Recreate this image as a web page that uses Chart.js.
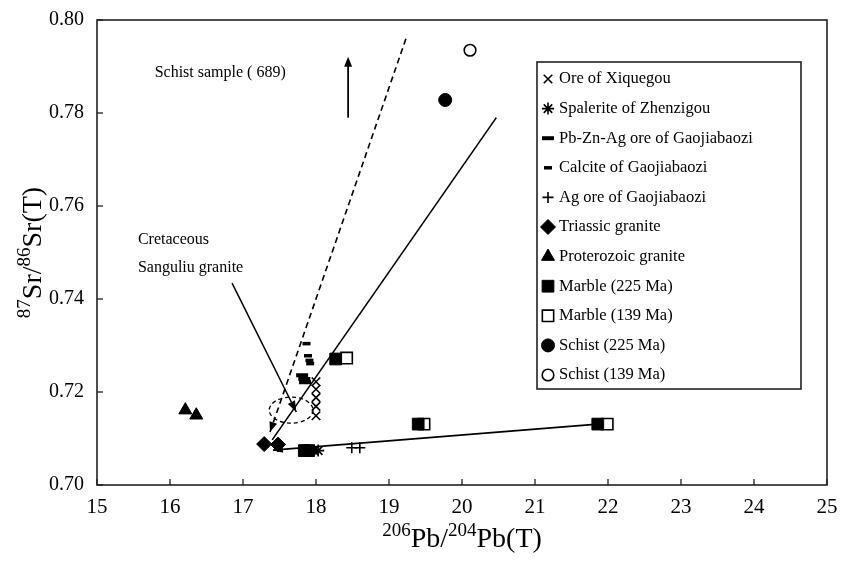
<!DOCTYPE html>
<html><head><meta charset="utf-8">
<script src="https://cdn.jsdelivr.net/npm/chart.js@4/dist/chart.umd.min.js"></script>
<style>html,body{margin:0;padding:0;background:#fff}#wrap{width:841px;height:564px;position:relative}</style>
</head><body><div id="wrap"><canvas id="c" width="841" height="564"></canvas></div>
<script>
// ---- tick labels ----
const xTickValues = [15,16,17,18,19,20,21,22,23,24,25];
const yTickValues = [0.70,0.72,0.74,0.76,0.78,0.80];

// ---- series (x = 206Pb/204Pb(T), y = 87Sr/86Sr(T)) ----
const xiquegouX = [18.0,18.0,18.0,18.0,18.0];
const xiquegouY = [0.7222,0.7206,0.7188,0.7169,0.7149];
const zhenzigouX = [17.97,18.03];
const zhenzigouY = [0.7074,0.7074];
const pbznagX = [17.81,17.84,17.85];
const pbznagY = [0.7236,0.7228,0.7221];
const calciteX = [17.87,17.89,17.91,17.92];
const calciteY = [0.7304,0.7278,0.7268,0.7261];
const agOreX = [18.49,18.6];
const agOreY = [0.7080,0.7080];
const triassicX = [17.29,17.48];
const triassicY = [0.7088,0.7087];
const proterozoicX = [16.21,16.36];
const proterozoicY = [0.7161,0.7150];
const marble225X = [17.84,17.9,18.27,19.40,21.86];
const marble225Y = [0.7074,0.7074,0.7271,0.7131,0.7131];
const marble139X = [18.42,19.48,21.99];
const marble139Y = [0.7273,0.7131,0.7131];
const schist225X = [19.77];
const schist225Y = [0.7828];
const schist139X = [20.11];
const schist139Y = [0.7935];

// ---- reference lines ----
const solidLineX = [17.40,20.47];
const solidLineY = [0.7097,0.7790];
const dashedLineX = [17.37,19.25];
const dashedLineY = [0.7114,0.7968];
const bottomLineX = [17.41,21.86];
const bottomLineY = [0.7075,0.7131];
const cretaceousArrowX = [16.85,17.73];
const cretaceousArrowY = [0.7434,0.7157];
const schistArrowX = [18.44,18.44];
const schistArrowY = [0.7790,0.7921];
const ellipseCenter = [17.66,0.7161];
const ellipseRadii = [0.30,0.0028];

const zip = (xs, ys) => xs.map((x, i) => ({x, y: ys[i]}));
const SERIF = "'Liberation Serif', 'DejaVu Serif', serif";
const BLACK = '#000';

function series(label, xs, ys, style, radius, bw, fill) {
  return {label, data: zip(xs, ys), pointStyle: style, pointRadius: radius, pointHoverRadius: radius,
    pointBorderWidth: bw, borderColor: BLACK, backgroundColor: fill, pointBackgroundColor: fill,
    pointBorderColor: BLACK, showLine: false, order: 1};
}
function refLine(xs, ys, dash) {
  return {label: '', noLegend: true, data: zip(xs, ys), showLine: true, pointRadius: 0, borderColor: BLACK,
    borderWidth: 1.6, borderDash: dash || [], fill: false, order: 2};
}

const datasets = [
  series('Ore of Xiquegou', xiquegouX, xiquegouY, 'crossRot', 6, 1.6, BLACK),
  series('Spalerite of Zhenzigou', zhenzigouX, zhenzigouY, 'star', 6, 1.6, BLACK),
  series('Pb-Zn-Ag ore of Gaojiabaozi', pbznagX, pbznagY, 'line', 6, 4, BLACK),
  series('Calcite of Gaojiabaozi', calciteX, calciteY, 'line', 4, 3.5, BLACK),
  series('Ag ore of Gaojiabaozi', agOreX, agOreY, 'cross', 5.5, 1.6, BLACK),
  series('Triassic granite', triassicX, triassicY, 'rectRot', 7.5, 1, BLACK),
  series('Proterozoic granite', proterozoicX, proterozoicY, 'triangle', 7.5, 1, BLACK),
  series('Marble (225 Ma)', marble225X, marble225Y, 'rect', 8.3, 1, BLACK),
  series('Marble (139 Ma)', marble139X, marble139Y, 'rect', 8, 1.6, '#fff'),
  series('Schist (225 Ma)', schist225X, schist225Y, 'circle', 6.5, 1, BLACK),
  series('Schist (139 Ma)', schist139X, schist139Y, 'circle', 5.8, 1.6, '#fff'),
  refLine(solidLineX, solidLineY),
  refLine(dashedLineX, dashedLineY, [6, 4]),
  refLine(bottomLineX, bottomLineY)
];

function arrowHead(ctx, x1, y1, x2, y2, len, half) {
  const a = Math.atan2(y2 - y1, x2 - x1);
  ctx.beginPath();
  ctx.moveTo(x2, y2);
  ctx.lineTo(x2 - len * Math.cos(a) + half * Math.sin(a), y2 - len * Math.sin(a) - half * Math.cos(a));
  ctx.lineTo(x2 - len * Math.cos(a) - half * Math.sin(a), y2 - len * Math.sin(a) + half * Math.cos(a));
  ctx.closePath();
  ctx.fill();
}

function drawMarker(ctx, ds, x, y) {
  const opts = {pointStyle: ds.pointStyle, radius: ds.pointRadius, borderWidth: ds.pointBorderWidth, rotation: 0};
  ctx.save();
  ctx.fillStyle = ds.pointBackgroundColor;
  ctx.strokeStyle = BLACK;
  ctx.lineWidth = ds.pointBorderWidth;
  Chart.helpers.drawPoint(ctx, opts, x, y);
  ctx.restore();
}

const decorPlugin = {
  id: 'decor',
  afterDatasetsDraw(chart) {
    const ctx = chart.ctx, xs = chart.scales.x, ys = chart.scales.y, ca = chart.chartArea;
    const px = v => xs.getPixelForValue(v), py = v => ys.getPixelForValue(v);
    ctx.save();
    ctx.fillStyle = BLACK; ctx.strokeStyle = BLACK;
    // frame
    ctx.lineWidth = 1.6; ctx.strokeStyle = '#222';
    ctx.strokeRect(ca.left, ca.top, ca.right - ca.left, ca.bottom - ca.top);
    // inward ticks
    ctx.lineWidth = 1.3;
    xTickValues.forEach(v => { const x = px(v); ctx.beginPath(); ctx.moveTo(x, ca.bottom); ctx.lineTo(x, ca.bottom - 6); ctx.stroke(); });
    yTickValues.forEach(v => { const y = py(v); ctx.beginPath(); ctx.moveTo(ca.left, y); ctx.lineTo(ca.left + 6, y); ctx.stroke(); });
    ctx.strokeStyle = BLACK;
    // arrowheads on reference lines
    arrowHead(ctx, px(dashedLineX[1]), py(dashedLineY[1]), px(dashedLineX[0]), py(dashedLineY[0]), 10, 4);
    arrowHead(ctx, px(bottomLineX[1]), py(bottomLineY[1]), px(bottomLineX[0]), py(bottomLineY[0]), 10, 3.5);
    // Cretaceous arrow
    ctx.lineWidth = 1.5;
    const c0x = px(cretaceousArrowX[0]), c0y = py(cretaceousArrowY[0]), c1x = px(cretaceousArrowX[1]), c1y = py(cretaceousArrowY[1]);
    ctx.beginPath(); ctx.moveTo(c0x, c0y); ctx.lineTo(c1x, c1y); ctx.stroke();
    arrowHead(ctx, c0x, c0y, c1x, c1y, 11, 4);
    // Schist arrow
    const s0x = px(schistArrowX[0]), s0y = py(schistArrowY[0]), s1x = px(schistArrowX[1]), s1y = py(schistArrowY[1]);
    ctx.lineWidth = 1.8;
    ctx.beginPath(); ctx.moveTo(s0x, s0y); ctx.lineTo(s1x, s1y + 6); ctx.stroke();
    arrowHead(ctx, s0x, s0y, s1x, s1y, 10, 4);
    // dashed ellipse
    ctx.lineWidth = 1.3; ctx.setLineDash([4, 3]);
    ctx.beginPath();
    ctx.ellipse(px(ellipseCenter[0]), py(ellipseCenter[1]),
      Math.abs(px(ellipseCenter[0] + ellipseRadii[0]) - px(ellipseCenter[0])),
      Math.abs(py(ellipseCenter[1] + ellipseRadii[1]) - py(ellipseCenter[1])), 0, 0, Math.PI * 2);
    ctx.stroke(); ctx.setLineDash([]);
    // annotations text
    ctx.font = '16px ' + SERIF; ctx.textBaseline = 'middle'; ctx.textAlign = 'left';
    ctx.fillText('Schist sample ( 689)', px(15.79), py(0.7886));
    ctx.fillText('Cretaceous', px(15.56), py(0.7527));
    ctx.fillText('Sanguliu granite', px(15.56), py(0.7467));

    // legend box
    const lx0 = 537, ly0 = 62, lx1 = 801, ly1 = 389;
    ctx.fillStyle = '#fff'; ctx.fillRect(lx0, ly0, lx1 - lx0, ly1 - ly0);
    ctx.lineWidth = 1.6; ctx.strokeStyle = '#222'; ctx.strokeRect(lx0, ly0, lx1 - lx0, ly1 - ly0);
    ctx.fillStyle = BLACK;
    const items = chart.data.datasets.filter(d => !d.noLegend);
    ctx.font = '16.5px ' + SERIF; ctx.textBaseline = 'middle';
    items.forEach((d, i) => {
      const y = 79 + i * 29.6;
      drawMarker(ctx, d, 548, y);
      ctx.fillStyle = BLACK;
      ctx.fillText(d.label, 559, y);
    });

    // axis titles with superscripts
    const big = '28px ' + SERIF, small = '19px ' + SERIF;
    function richWidth(parts) { return parts.reduce((w, p) => { ctx.font = p[1] ? small : big; return w + ctx.measureText(p[0]).width; }, 0); }
    function richDraw(parts, x, y) {
      ctx.textAlign = 'left'; ctx.textBaseline = 'alphabetic';
      parts.forEach(p => { ctx.font = p[1] ? small : big; ctx.fillText(p[0], x, p[1] ? y - 11 : y); x += ctx.measureText(p[0]).width; });
    }
    const xt = [['206', 1], ['Pb/', 0], ['204', 1], ['Pb(T)', 0]];
    const wx = richWidth(xt);
    richDraw(xt, (ca.left + ca.right) / 2 - wx / 2, 547);
    const yt = [['87', 1], ['Sr/', 0], ['86', 1], ['Sr(T)', 0]];
    const wy = richWidth(yt);
    ctx.save();
    ctx.translate(41, (ca.top + ca.bottom) / 2);
    ctx.rotate(-Math.PI / 2);
    richDraw(yt, -wy / 2, 0);
    ctx.restore();
    ctx.restore();
  }
};

new Chart(document.getElementById('c'), {
  type: 'scatter',
  data: {datasets},
  options: {
    responsive: false, animation: false, devicePixelRatio: 1,
    layout: {padding: {top: 20, right: 14, bottom: 0, left: 0}},
    plugins: {legend: {display: false}, tooltip: {enabled: false}},
    scales: {
      x: {type: 'linear', min: 15, max: 25,
        afterFit: s => { s.height = 79; s.paddingRight = 0; s.paddingLeft = 0; },
        afterBuildTicks: s => { s.ticks = xTickValues.map(v => ({value: v})); },
        grid: {display: false, drawTicks: false}, border: {display: false},
        ticks: {color: BLACK, padding: 10, font: {family: SERIF, size: 21}, callback: v => String(v), maxRotation: 0}},
      y: {type: 'linear', min: 0.70, max: 0.80,
        afterFit: s => { s.width = 97; s.paddingTop = 0; s.paddingBottom = 0; },
        afterBuildTicks: s => { s.ticks = yTickValues.map(v => ({value: v})); },
        grid: {display: false, drawTicks: false}, border: {display: false},
        ticks: {color: BLACK, padding: 13, font: {family: SERIF, size: 20}, callback: v => Number(v).toFixed(2)}}
    }
  },
  plugins: [decorPlugin]
});
</script></body></html>
